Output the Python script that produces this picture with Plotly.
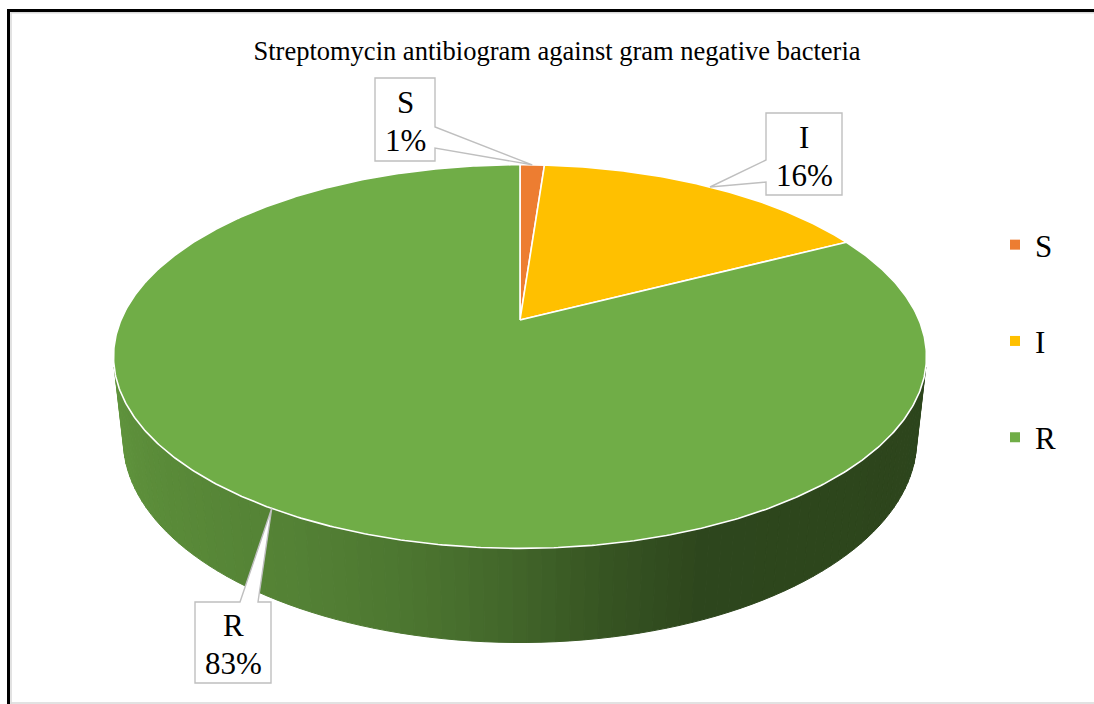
import numpy as np
import plotly.graph_objects as go

# ---------------- data ----------------
categories = ["S", "I", "R"]
values = [1, 14, 71]
colors = ["#ED7D31", "#FFC000", "#70AD47"]
title_text = "Streptomycin antibiogram against gram negative bacteria"

# ---------------- geometry / style ----------------
W, H = 1094, 704
CX, CY = 520.0, 320.0          # projected centre of the top face
ALPHA = np.radians(27.6)       # camera elevation
DIST = 4.649                   # camera distance (in pie radii)
FOCAL = 1855.0                 # focal length in px
THICK = 0.237                  # pie thickness (in radii)
FONT = "Liberation Serif, Times New Roman, serif"


def proj(u, v, z):
    depth = DIST + v * np.cos(ALPHA) - z * np.sin(ALPHA)
    x = CX + FOCAL * u / depth
    y = CY - FOCAL * (v * np.sin(ALPHA) + z * np.cos(ALPHA)) / depth
    return x, y


def hex_rgb(h):
    h = h.lstrip("#")
    return np.array([int(h[i:i + 2], 16) for i in (0, 2, 4)], dtype=float)


def shade(hexcol, f):
    r, g, b = np.clip(hex_rgb(hexcol) * f, 0, 255).astype(int)
    return f"rgb({r},{g},{b})"


total = float(sum(values))
fracs = [v / total for v in values]
cum = np.concatenate([[0.0], np.cumsum(fracs)])
# Excel: first slice starts at 12 o'clock, clockwise
start_deg = [90.0 - c * 360.0 for c in cum[:-1]]
end_deg = [90.0 - c * 360.0 for c in cum[1:]]


def slice_of(theta_deg):
    f = ((90.0 - theta_deg) % 360.0) / 360.0
    idx = np.searchsorted(cum, f, side="right") - 1
    return int(min(max(idx, 0), len(values) - 1))


fig = go.Figure()

# ---------------- side wall (visible front part) ----------------
lim = np.degrees(np.arcsin(1.0 / (DIST * np.cos(ALPHA))))
th_min, th_max = 180.0 + lim, 360.0 - lim
breaks = list(np.linspace(th_min, th_max, 90))
for a in start_deg + end_deg:
    aa = a % 360.0
    if th_min < aa < th_max:
        breaks.append(aa)
breaks = np.sort(np.array(breaks))

shade_t = [194, 220, 242, 256, 268, 280, 292, 346]
shade_f = [0.86, 0.80, 0.75, 0.69, 0.60, 0.49, 0.41, 0.40]

for t0, t1 in zip(breaks[:-1], breaks[1:]):
    tm = 0.5 * (t0 + t1)
    si = slice_of(tm)
    col = shade(colors[si], np.interp(tm, shade_t, shade_f))
    ts = np.radians(np.linspace(t0, t1, 4))
    xt, yt = proj(np.cos(ts), np.sin(ts), 0.0)
    xb, yb = proj(np.cos(ts[::-1]), np.sin(ts[::-1]), -THICK)
    xs = np.concatenate([xt, xb, xt[:1]])
    ys = np.concatenate([yt, yb, yt[:1]])
    fig.add_trace(go.Scatter(
        x=xs, y=ys, mode="lines", fill="toself", fillcolor=col,
        line=dict(color=col, width=1), hoverinfo="skip", showlegend=False))

# ---------------- top face slices ----------------
for i, cat in enumerate(categories):
    n = max(int(abs(end_deg[i] - start_deg[i]) * 2), 6)
    ts = np.radians(np.linspace(start_deg[i], end_deg[i], n))
    xa, ya = proj(np.cos(ts), np.sin(ts), 0.0)
    x0, y0 = proj(0.0, 0.0, 0.0)
    xs = np.concatenate([[x0], xa, [x0]])
    ys = np.concatenate([[y0], ya, [y0]])
    fig.add_trace(go.Scatter(
        x=xs, y=ys, mode="lines", fill="toself", fillcolor=colors[i],
        line=dict(color="white", width=1.6), name=cat,
        hoverinfo="name", showlegend=False))

# ---------------- legend entries ----------------
for i, cat in enumerate(categories):
    fig.add_trace(go.Scatter(
        x=[None], y=[None], mode="markers", name=cat, legendgroup=cat,
        marker=dict(symbol="square", size=10, color=colors[i])))

# ---------------- data callouts ----------------
# box (x0, y0, x1, y1), side the pointer leaves from, pointer base span
callouts = [
    dict(box=(375, 78, 435, 161), side="right", base=(127, 148)),
    dict(box=(766, 113, 842, 195), side="left", base=(160, 182)),
    dict(box=(195, 602, 271, 683), side="top", base=(240, 258)),
]

shapes = []
annotations = []
for i, cat in enumerate(categories):
    mid = 0.5 * (start_deg[i] + end_deg[i])
    tx, ty = proj(np.cos(np.radians(mid)), np.sin(np.radians(mid)), 0.0)
    c = callouts[i]
    x0, y0, x1, y1 = c["box"]
    b0, b1 = c["base"]
    if c["side"] == "right":
        pts = [(x0, y0), (x1, y0), (x1, b0), (tx, ty), (x1, b1), (x1, y1), (x0, y1)]
    elif c["side"] == "left":
        pts = [(x0, y0), (x1, y0), (x1, y1), (x0, y1), (x0, b1), (tx, ty), (x0, b0)]
    else:  # top
        pts = [(x0, y0), (b0, y0), (tx, ty), (b1, y0), (x1, y0), (x1, y1), (x0, y1)]
    path = "M " + " L ".join(f"{px:.1f},{py:.1f}" for px, py in pts) + " Z"
    shapes.append(dict(type="path", path=path, xref="x", yref="y",
                       fillcolor="white", line=dict(color="#BFBFBF", width=1.4),
                       layer="above"))
    pct = f"{round(fracs[i] * 100):.0f}%"
    xc = 0.5 * (x0 + x1)
    yc = 0.5 * (y0 + y1) + 2
    annotations.append(dict(x=xc, y=yc - 19, xref="x", yref="y", text=cat,
                            showarrow=False, font=dict(family=FONT, size=31, color="black"),
                            xanchor="center", yanchor="middle"))
    annotations.append(dict(x=xc, y=yc + 19, xref="x", yref="y", text=pct,
                            showarrow=False, font=dict(family=FONT, size=31, color="black"),
                            xanchor="center", yanchor="middle"))

# ---------------- frame lines ----------------
shapes += [
    dict(type="line", xref="x", yref="y", x0=8.5, x1=8.5, y0=9, y1=H,
         line=dict(color="black", width=3), layer="above"),
    dict(type="line", xref="x", yref="y", x0=7, x1=W, y0=10.5, y1=10.5,
         line=dict(color="black", width=3), layer="above"),
    dict(type="line", xref="x", yref="y", x0=11, x1=11, y0=12, y1=H,
         line=dict(color="#D9D9D9", width=1.5), layer="above"),
    dict(type="line", xref="x", yref="y", x0=11, x1=W, y0=12.8, y1=12.8,
         line=dict(color="#D9D9D9", width=1.5), layer="above"),
    dict(type="line", xref="x", yref="y", x0=11, x1=W, y0=703, y1=703,
         line=dict(color="#D9D9D9", width=1.5), layer="above"),
]

fig.update_layout(
    width=W, height=H,
    margin=dict(l=0, r=0, t=0, b=0),
    paper_bgcolor="white", plot_bgcolor="white",
    xaxis=dict(range=[0, W], visible=False, fixedrange=True),
    yaxis=dict(range=[H, 0], visible=False, fixedrange=True),
    title=dict(text=title_text, x=557 / W, xanchor="center",
               y=1 - 51 / H, yanchor="middle",
               font=dict(family=FONT, size=26.5, color="black")),
    showlegend=True,
    legend=dict(x=995 / W, xanchor="left", y=1 - 218 / H, yanchor="top",
                font=dict(family=FONT, size=31, color="black"),
                tracegroupgap=53, bgcolor="rgba(0,0,0,0)", borderwidth=0),
    shapes=shapes,
    annotations=annotations,
)

fig.write_html("out.html")
